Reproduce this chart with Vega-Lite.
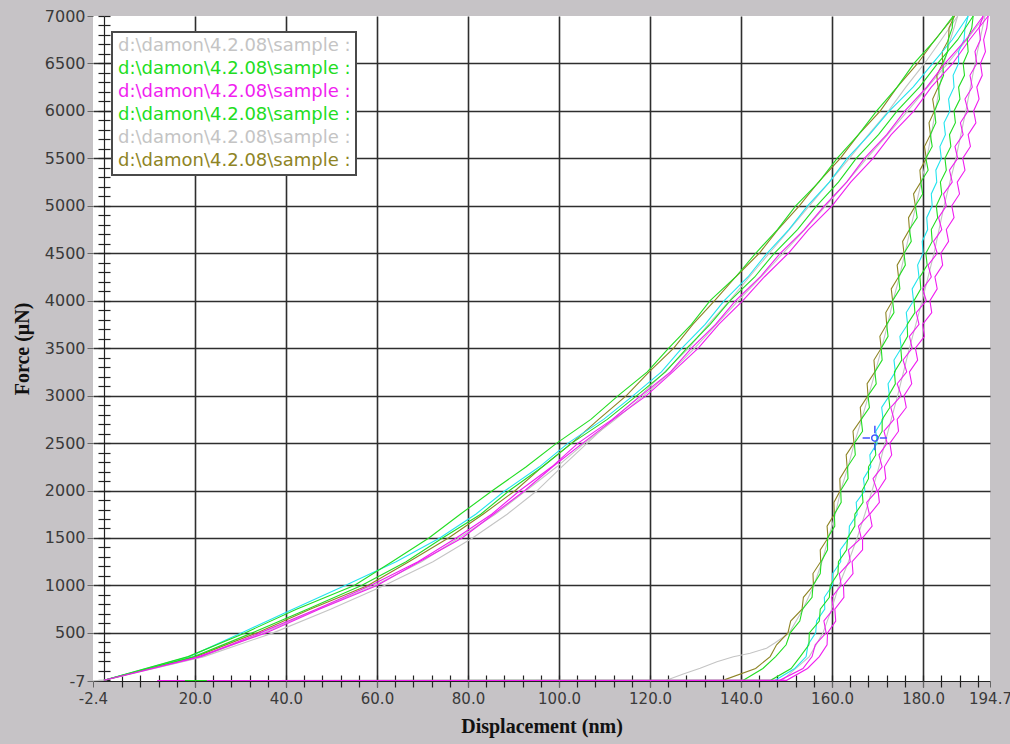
{
"$schema": "https://vega.github.io/schema/vega-lite/v6.json",
"width": 897,
"height": 665,
"autosize": {"type": "none"},
"padding": {"left": 93, "top": 16, "right": 20, "bottom": 63},
"background": "#c6c3c6",
"config": {"view": {"fill": "white", "stroke": null}},
"datasets": {
"cursor": [{"x": 169.4, "y": 2553}],
"curves": [
{"s":"s1","p":"L","x":0,"y":0},{"s":"s1","p":"L","x":22.0,"y":250},{"s":"s1","p":"L","x":37.2,"y":500},{"s":"s1","p":"L","x":49.8,"y":750},{"s":"s1","p":"L","x":61.6,"y":1000},{"s":"s1","p":"L","x":72.3,"y":1250},{"s":"s1","p":"L","x":81.0,"y":1500},{"s":"s1","p":"L","x":88.6,"y":1750},{"s":"s1","p":"L","x":95.2,"y":2000},{"s":"s1","p":"L","x":100.6,"y":2250},{"s":"s1","p":"L","x":106.2,"y":2500},{"s":"s1","p":"L","x":111.8,"y":2750},{"s":"s1","p":"L","x":117.9,"y":3000},{"s":"s1","p":"L","x":123.2,"y":3250},{"s":"s1","p":"L","x":128.5,"y":3500},{"s":"s1","p":"L","x":132.8,"y":3750},{"s":"s1","p":"L","x":137.5,"y":4000},{"s":"s1","p":"L","x":141.8,"y":4250},{"s":"s1","p":"L","x":146.2,"y":4500},{"s":"s1","p":"L","x":150.6,"y":4750},{"s":"s1","p":"L","x":155.0,"y":5000},{"s":"s1","p":"L","x":159.4,"y":5250},{"s":"s1","p":"L","x":163.8,"y":5500},{"s":"s1","p":"L","x":168.0,"y":5750},{"s":"s1","p":"L","x":172.4,"y":6000},{"s":"s1","p":"L","x":176.2,"y":6250},{"s":"s1","p":"L","x":180.3,"y":6500},{"s":"s1","p":"L","x":184.0,"y":6750},{"s":"s1","p":"L","x":187.6,"y":7000},
{"s":"s1","p":"U","x":123.6,"y":0},{"s":"s1","p":"U","x":127.3,"y":67},{"s":"s1","p":"U","x":131.0,"y":127},{"s":"s1","p":"U","x":134.7,"y":196},{"s":"s1","p":"U","x":138.3,"y":249},{"s":"s1","p":"U","x":142.0,"y":285},{"s":"s1","p":"U","x":145.6,"y":338},{"s":"s1","p":"U","x":147.4,"y":393},{"s":"s1","p":"U","x":150.6,"y":500},{"s":"s1","p":"U","x":153.6,"y":750},{"s":"s1","p":"U","x":156.0,"y":1000},{"s":"s1","p":"U","x":157.8,"y":1250},{"s":"s1","p":"U","x":159.2,"y":1500},{"s":"s1","p":"U","x":160.7,"y":1750},{"s":"s1","p":"U","x":161.9,"y":2000},{"s":"s1","p":"U","x":163.5,"y":2250},{"s":"s1","p":"U","x":164.9,"y":2500},{"s":"s1","p":"U","x":166.5,"y":2750},{"s":"s1","p":"U","x":168.0,"y":3000},{"s":"s1","p":"U","x":169.5,"y":3250},{"s":"s1","p":"U","x":170.9,"y":3500},{"s":"s1","p":"U","x":172.2,"y":3750},{"s":"s1","p":"U","x":173.4,"y":4000},{"s":"s1","p":"U","x":174.8,"y":4250},{"s":"s1","p":"U","x":176.0,"y":4500},{"s":"s1","p":"U","x":177.2,"y":4750},{"s":"s1","p":"U","x":178.4,"y":5000},{"s":"s1","p":"U","x":179.6,"y":5250},{"s":"s1","p":"U","x":180.8,"y":5500},{"s":"s1","p":"U","x":181.8,"y":5750},{"s":"s1","p":"U","x":182.7,"y":6000},{"s":"s1","p":"U","x":183.6,"y":6250},{"s":"s1","p":"U","x":184.6,"y":6500},{"s":"s1","p":"U","x":186.0,"y":6750},{"s":"s1","p":"U","x":187.6,"y":7000},
{"s":"s5","p":"L","x":-2.4,"y":-4},{"s":"s5","p":"L","x":0,"y":0},{"s":"s5","p":"L","x":21.6,"y":250},{"s":"s5","p":"L","x":35.0,"y":500},{"s":"s5","p":"L","x":47.0,"y":750},{"s":"s5","p":"L","x":59.5,"y":1000},{"s":"s5","p":"L","x":69.8,"y":1250},{"s":"s5","p":"L","x":78.0,"y":1500},{"s":"s5","p":"L","x":86.0,"y":1750},{"s":"s5","p":"L","x":92.8,"y":2000},{"s":"s5","p":"L","x":99.5,"y":2250},{"s":"s5","p":"L","x":105.6,"y":2500},{"s":"s5","p":"L","x":112.4,"y":2750},{"s":"s5","p":"L","x":118.6,"y":3000},{"s":"s5","p":"L","x":124.6,"y":3250},{"s":"s5","p":"L","x":129.8,"y":3500},{"s":"s5","p":"L","x":134.6,"y":3750},{"s":"s5","p":"L","x":139.4,"y":4000},{"s":"s5","p":"L","x":144.4,"y":4250},{"s":"s5","p":"L","x":149.2,"y":4500},{"s":"s5","p":"L","x":154.0,"y":4750},{"s":"s5","p":"L","x":158.6,"y":5000},{"s":"s5","p":"L","x":163.2,"y":5250},{"s":"s5","p":"L","x":167.6,"y":5500},{"s":"s5","p":"L","x":172.2,"y":5750},{"s":"s5","p":"L","x":176.6,"y":6000},{"s":"s5","p":"L","x":181.0,"y":6250},{"s":"s5","p":"L","x":185.4,"y":6500},{"s":"s5","p":"L","x":189.6,"y":6750},{"s":"s5","p":"L","x":193.6,"y":7000},
{"s":"s5","p":"U","x":149.0,"y":0},{"s":"s5","p":"U","x":155.0,"y":250},{"s":"s5","p":"U","x":158.0,"y":500},{"s":"s5","p":"U","x":159.9,"y":750},{"s":"s5","p":"U","x":161.5,"y":1000},{"s":"s5","p":"U","x":163.6,"y":1250},{"s":"s5","p":"U","x":165.5,"y":1500},{"s":"s5","p":"U","x":167.2,"y":1750},{"s":"s5","p":"U","x":168.8,"y":2000},{"s":"s5","p":"U","x":170.3,"y":2250},{"s":"s5","p":"U","x":171.6,"y":2500},{"s":"s5","p":"U","x":173.0,"y":2750},{"s":"s5","p":"U","x":174.4,"y":3000},{"s":"s5","p":"U","x":175.7,"y":3250},{"s":"s5","p":"U","x":177.0,"y":3500},{"s":"s5","p":"U","x":178.4,"y":3750},{"s":"s5","p":"U","x":179.8,"y":4000},{"s":"s5","p":"U","x":181.1,"y":4250},{"s":"s5","p":"U","x":182.4,"y":4500},{"s":"s5","p":"U","x":183.5,"y":4750},{"s":"s5","p":"U","x":184.6,"y":5000},{"s":"s5","p":"U","x":185.9,"y":5250},{"s":"s5","p":"U","x":187.2,"y":5500},{"s":"s5","p":"U","x":188.3,"y":5750},{"s":"s5","p":"U","x":189.4,"y":6000},{"s":"s5","p":"U","x":190.4,"y":6250},{"s":"s5","p":"U","x":191.4,"y":6500},{"s":"s5","p":"U","x":192.5,"y":6750},{"s":"s5","p":"U","x":193.6,"y":7000},
{"s":"s6","p":"L","x":0,"y":0},{"s":"s6","p":"L","x":20.2,"y":250},{"s":"s6","p":"L","x":33.6,"y":500},{"s":"s6","p":"L","x":45.3,"y":750},{"s":"s6","p":"L","x":58.0,"y":1000},{"s":"s6","p":"L","x":67.0,"y":1250},{"s":"s6","p":"L","x":75.7,"y":1500},{"s":"s6","p":"L","x":83.3,"y":1750},{"s":"s6","p":"L","x":90.4,"y":2000},{"s":"s6","p":"L","x":96.3,"y":2250},{"s":"s6","p":"L","x":102.8,"y":2500},{"s":"s6","p":"L","x":108.7,"y":2750},{"s":"s6","p":"L","x":114.8,"y":3000},{"s":"s6","p":"L","x":119.8,"y":3250},{"s":"s6","p":"L","x":125.2,"y":3500},{"s":"s6","p":"L","x":129.4,"y":3750},{"s":"s6","p":"L","x":134.2,"y":4000},{"s":"s6","p":"L","x":138.8,"y":4250},{"s":"s6","p":"L","x":144.0,"y":4500},{"s":"s6","p":"L","x":148.1,"y":4750},{"s":"s6","p":"L","x":152.8,"y":5000},{"s":"s6","p":"L","x":157.0,"y":5250},{"s":"s6","p":"L","x":161.8,"y":5500},{"s":"s6","p":"L","x":165.8,"y":5750},{"s":"s6","p":"L","x":170.6,"y":6000},{"s":"s6","p":"L","x":174.3,"y":6250},{"s":"s6","p":"L","x":178.8,"y":6500},{"s":"s6","p":"L","x":182.6,"y":6750},{"s":"s6","p":"L","x":186.9,"y":7000},
{"s":"s6","p":"U","x":132.0,"y":-2},{"s":"s6","p":"U","x":136.0,"y":0},{"s":"s6","p":"U","x":143.2,"y":125},{"s":"s6","p":"U","x":146.4,"y":250},{"s":"s6","p":"U","x":147.8,"y":375},{"s":"s6","p":"U","x":150.3,"y":500},{"s":"s6","p":"U","x":150.9,"y":625},{"s":"s6","p":"U","x":153.4,"y":750},{"s":"s6","p":"U","x":153.7,"y":875},{"s":"s6","p":"U","x":155.9,"y":1000},{"s":"s6","p":"U","x":155.8,"y":1125},{"s":"s6","p":"U","x":157.5,"y":1250},{"s":"s6","p":"U","x":157.4,"y":1375},{"s":"s6","p":"U","x":159.1,"y":1500},{"s":"s6","p":"U","x":158.9,"y":1625},{"s":"s6","p":"U","x":160.5,"y":1750},{"s":"s6","p":"U","x":160.4,"y":1875},{"s":"s6","p":"U","x":161.8,"y":2000},{"s":"s6","p":"U","x":161.7,"y":2125},{"s":"s6","p":"U","x":163.3,"y":2250},{"s":"s6","p":"U","x":163.1,"y":2375},{"s":"s6","p":"U","x":164.8,"y":2500},{"s":"s6","p":"U","x":164.6,"y":2625},{"s":"s6","p":"U","x":166.4,"y":2750},{"s":"s6","p":"U","x":166.2,"y":2875},{"s":"s6","p":"U","x":167.9,"y":3000},{"s":"s6","p":"U","x":167.7,"y":3125},{"s":"s6","p":"U","x":169.4,"y":3250},{"s":"s6","p":"U","x":169.2,"y":3375},{"s":"s6","p":"U","x":170.8,"y":3500},{"s":"s6","p":"U","x":170.5,"y":3625},{"s":"s6","p":"U","x":172.0,"y":3750},{"s":"s6","p":"U","x":171.8,"y":3875},{"s":"s6","p":"U","x":173.3,"y":4000},{"s":"s6","p":"U","x":173.0,"y":4125},{"s":"s6","p":"U","x":174.6,"y":4250},{"s":"s6","p":"U","x":174.3,"y":4375},{"s":"s6","p":"U","x":175.8,"y":4500},{"s":"s6","p":"U","x":175.5,"y":4625},{"s":"s6","p":"U","x":177.0,"y":4750},{"s":"s6","p":"U","x":176.8,"y":4875},{"s":"s6","p":"U","x":178.3,"y":5000},{"s":"s6","p":"U","x":177.9,"y":5125},{"s":"s6","p":"U","x":179.5,"y":5250},{"s":"s6","p":"U","x":179.3,"y":5375},{"s":"s6","p":"U","x":180.7,"y":5500},{"s":"s6","p":"U","x":180.3,"y":5625},{"s":"s6","p":"U","x":181.6,"y":5750},{"s":"s6","p":"U","x":181.3,"y":5875},{"s":"s6","p":"U","x":182.5,"y":6000},{"s":"s6","p":"U","x":182.1,"y":6125},{"s":"s6","p":"U","x":183.3,"y":6250},{"s":"s6","p":"U","x":183.0,"y":6375},{"s":"s6","p":"U","x":184.3,"y":6500},{"s":"s6","p":"U","x":184.2,"y":6625},{"s":"s6","p":"U","x":185.6,"y":6750},{"s":"s6","p":"U","x":185.7,"y":6875},{"s":"s6","p":"U","x":186.9,"y":7000},
{"s":"s7","p":"L","x":0,"y":0},{"s":"s7","p":"L","x":18.8,"y":250},{"s":"s7","p":"L","x":30.2,"y":500},{"s":"s7","p":"L","x":41.5,"y":750},{"s":"s7","p":"L","x":53.0,"y":1000},{"s":"s7","p":"L","x":64.2,"y":1250},{"s":"s7","p":"L","x":73.8,"y":1500},{"s":"s7","p":"L","x":81.7,"y":1750},{"s":"s7","p":"L","x":88.2,"y":2000},{"s":"s7","p":"L","x":95.7,"y":2250},{"s":"s7","p":"L","x":102.0,"y":2500},{"s":"s7","p":"L","x":109.8,"y":2750},{"s":"s7","p":"L","x":116.3,"y":3000},{"s":"s7","p":"L","x":122.5,"y":3250},{"s":"s7","p":"L","x":127.0,"y":3500},{"s":"s7","p":"L","x":132.1,"y":3750},{"s":"s7","p":"L","x":136.3,"y":4000},{"s":"s7","p":"L","x":141.5,"y":4250},{"s":"s7","p":"L","x":145.7,"y":4500},{"s":"s7","p":"L","x":150.5,"y":4750},{"s":"s7","p":"L","x":154.6,"y":5000},{"s":"s7","p":"L","x":159.4,"y":5250},{"s":"s7","p":"L","x":163.3,"y":5500},{"s":"s7","p":"L","x":168.2,"y":5750},{"s":"s7","p":"L","x":172.6,"y":6000},{"s":"s7","p":"L","x":177.8,"y":6250},{"s":"s7","p":"L","x":182.1,"y":6500},{"s":"s7","p":"L","x":186.4,"y":6750},{"s":"s7","p":"L","x":189.9,"y":7000},
{"s":"s7","p":"U","x":147.5,"y":0},{"s":"s7","p":"U","x":151.8,"y":125},{"s":"s7","p":"U","x":154.3,"y":250},{"s":"s7","p":"U","x":154.7,"y":375},{"s":"s7","p":"U","x":156.4,"y":500},{"s":"s7","p":"U","x":156.6,"y":625},{"s":"s7","p":"U","x":158.4,"y":750},{"s":"s7","p":"U","x":158.3,"y":875},{"s":"s7","p":"U","x":160.1,"y":1000},{"s":"s7","p":"U","x":160.1,"y":1125},{"s":"s7","p":"U","x":161.9,"y":1250},{"s":"s7","p":"U","x":161.8,"y":1375},{"s":"s7","p":"U","x":163.7,"y":1500},{"s":"s7","p":"U","x":163.8,"y":1625},{"s":"s7","p":"U","x":165.5,"y":1750},{"s":"s7","p":"U","x":165.3,"y":1875},{"s":"s7","p":"U","x":167.2,"y":2000},{"s":"s7","p":"U","x":166.9,"y":2125},{"s":"s7","p":"U","x":168.5,"y":2250},{"s":"s7","p":"U","x":168.3,"y":2375},{"s":"s7","p":"U","x":169.9,"y":2500},{"s":"s7","p":"U","x":169.6,"y":2625},{"s":"s7","p":"U","x":171.2,"y":2750},{"s":"s7","p":"U","x":170.9,"y":2875},{"s":"s7","p":"U","x":172.6,"y":3000},{"s":"s7","p":"U","x":172.3,"y":3125},{"s":"s7","p":"U","x":173.9,"y":3250},{"s":"s7","p":"U","x":173.6,"y":3375},{"s":"s7","p":"U","x":175.2,"y":3500},{"s":"s7","p":"U","x":174.9,"y":3625},{"s":"s7","p":"U","x":176.6,"y":3750},{"s":"s7","p":"U","x":176.3,"y":3875},{"s":"s7","p":"U","x":177.9,"y":4000},{"s":"s7","p":"U","x":177.6,"y":4125},{"s":"s7","p":"U","x":179.1,"y":4250},{"s":"s7","p":"U","x":178.8,"y":4375},{"s":"s7","p":"U","x":180.0,"y":4500},{"s":"s7","p":"U","x":179.8,"y":4625},{"s":"s7","p":"U","x":181.0,"y":4750},{"s":"s7","p":"U","x":180.8,"y":4875},{"s":"s7","p":"U","x":182.0,"y":5000},{"s":"s7","p":"U","x":181.8,"y":5125},{"s":"s7","p":"U","x":183.0,"y":5250},{"s":"s7","p":"U","x":182.8,"y":5375},{"s":"s7","p":"U","x":184.0,"y":5500},{"s":"s7","p":"U","x":183.7,"y":5625},{"s":"s7","p":"U","x":184.9,"y":5750},{"s":"s7","p":"U","x":184.6,"y":5875},{"s":"s7","p":"U","x":185.9,"y":6000},{"s":"s7","p":"U","x":185.6,"y":6125},{"s":"s7","p":"U","x":186.8,"y":6250},{"s":"s7","p":"U","x":186.6,"y":6375},{"s":"s7","p":"U","x":187.8,"y":6500},{"s":"s7","p":"U","x":187.8,"y":6625},{"s":"s7","p":"U","x":189.0,"y":6750},{"s":"s7","p":"U","x":189.2,"y":6875},{"s":"s7","p":"U","x":189.9,"y":7000},
{"s":"s2","p":"L","x":0,"y":0},{"s":"s2","p":"L","x":18.5,"y":250},{"s":"s2","p":"L","x":31.0,"y":500},{"s":"s2","p":"L","x":42.3,"y":750},{"s":"s2","p":"L","x":55.0,"y":1000},{"s":"s2","p":"L","x":63.3,"y":1250},{"s":"s2","p":"L","x":71.4,"y":1500},{"s":"s2","p":"L","x":78.3,"y":1750},{"s":"s2","p":"L","x":85.4,"y":2000},{"s":"s2","p":"L","x":92.8,"y":2250},{"s":"s2","p":"L","x":99.5,"y":2500},{"s":"s2","p":"L","x":107.0,"y":2750},{"s":"s2","p":"L","x":113.0,"y":3000},{"s":"s2","p":"L","x":119.4,"y":3250},{"s":"s2","p":"L","x":124.1,"y":3500},{"s":"s2","p":"L","x":129.1,"y":3750},{"s":"s2","p":"L","x":133.2,"y":4000},{"s":"s2","p":"L","x":138.8,"y":4250},{"s":"s2","p":"L","x":143.2,"y":4500},{"s":"s2","p":"L","x":148.0,"y":4750},{"s":"s2","p":"L","x":152.0,"y":5000},{"s":"s2","p":"L","x":157.1,"y":5250},{"s":"s2","p":"L","x":161.1,"y":5500},{"s":"s2","p":"L","x":165.8,"y":5750},{"s":"s2","p":"L","x":169.8,"y":6000},{"s":"s2","p":"L","x":174.3,"y":6250},{"s":"s2","p":"L","x":178.0,"y":6500},{"s":"s2","p":"L","x":182.7,"y":6750},{"s":"s2","p":"L","x":186.6,"y":7000},
{"s":"s2","p":"U","x":140.5,"y":0},{"s":"s2","p":"U","x":144.8,"y":125},{"s":"s2","p":"U","x":147.6,"y":250},{"s":"s2","p":"U","x":149.9,"y":375},{"s":"s2","p":"U","x":150.8,"y":500},{"s":"s2","p":"U","x":152.9,"y":625},{"s":"s2","p":"U","x":153.5,"y":750},{"s":"s2","p":"U","x":155.6,"y":875},{"s":"s2","p":"U","x":155.8,"y":1000},{"s":"s2","p":"U","x":157.4,"y":1125},{"s":"s2","p":"U","x":157.6,"y":1250},{"s":"s2","p":"U","x":159.0,"y":1375},{"s":"s2","p":"U","x":159.0,"y":1500},{"s":"s2","p":"U","x":160.6,"y":1625},{"s":"s2","p":"U","x":160.5,"y":1750},{"s":"s2","p":"U","x":162.0,"y":1875},{"s":"s2","p":"U","x":161.9,"y":2000},{"s":"s2","p":"U","x":163.5,"y":2125},{"s":"s2","p":"U","x":163.4,"y":2250},{"s":"s2","p":"U","x":165.1,"y":2375},{"s":"s2","p":"U","x":164.9,"y":2500},{"s":"s2","p":"U","x":166.7,"y":2625},{"s":"s2","p":"U","x":166.4,"y":2750},{"s":"s2","p":"U","x":168.2,"y":2875},{"s":"s2","p":"U","x":167.9,"y":3000},{"s":"s2","p":"U","x":169.7,"y":3125},{"s":"s2","p":"U","x":169.4,"y":3250},{"s":"s2","p":"U","x":171.0,"y":3375},{"s":"s2","p":"U","x":170.8,"y":3500},{"s":"s2","p":"U","x":172.3,"y":3625},{"s":"s2","p":"U","x":172.0,"y":3750},{"s":"s2","p":"U","x":173.6,"y":3875},{"s":"s2","p":"U","x":173.3,"y":4000},{"s":"s2","p":"U","x":174.9,"y":4125},{"s":"s2","p":"U","x":174.6,"y":4250},{"s":"s2","p":"U","x":176.1,"y":4375},{"s":"s2","p":"U","x":175.8,"y":4500},{"s":"s2","p":"U","x":177.4,"y":4625},{"s":"s2","p":"U","x":177.0,"y":4750},{"s":"s2","p":"U","x":178.7,"y":4875},{"s":"s2","p":"U","x":178.3,"y":5000},{"s":"s2","p":"U","x":179.9,"y":5125},{"s":"s2","p":"U","x":179.5,"y":5250},{"s":"s2","p":"U","x":181.1,"y":5375},{"s":"s2","p":"U","x":180.6,"y":5500},{"s":"s2","p":"U","x":182.0,"y":5625},{"s":"s2","p":"U","x":181.6,"y":5750},{"s":"s2","p":"U","x":182.8,"y":5875},{"s":"s2","p":"U","x":182.5,"y":6000},{"s":"s2","p":"U","x":183.6,"y":6125},{"s":"s2","p":"U","x":183.4,"y":6250},{"s":"s2","p":"U","x":184.5,"y":6375},{"s":"s2","p":"U","x":184.3,"y":6500},{"s":"s2","p":"U","x":185.4,"y":6625},{"s":"s2","p":"U","x":185.5,"y":6750},{"s":"s2","p":"U","x":186.4,"y":6875},{"s":"s2","p":"U","x":186.6,"y":7000},
{"s":"s8","p":"L","x":0,"y":0},{"s":"s8","p":"L","x":20.8,"y":250},{"s":"s8","p":"L","x":35.6,"y":500},{"s":"s8","p":"L","x":47.3,"y":750},{"s":"s8","p":"L","x":60.0,"y":1000},{"s":"s8","p":"L","x":69.3,"y":1250},{"s":"s8","p":"L","x":78.7,"y":1500},{"s":"s8","p":"L","x":85.6,"y":1750},{"s":"s8","p":"L","x":92.5,"y":2000},{"s":"s8","p":"L","x":98.6,"y":2250},{"s":"s8","p":"L","x":105.2,"y":2500},{"s":"s8","p":"L","x":112.0,"y":2750},{"s":"s8","p":"L","x":119.2,"y":3000},{"s":"s8","p":"L","x":125.0,"y":3250},{"s":"s8","p":"L","x":130.6,"y":3500},{"s":"s8","p":"L","x":135.1,"y":3750},{"s":"s8","p":"L","x":140.4,"y":4000},{"s":"s8","p":"L","x":145.1,"y":4250},{"s":"s8","p":"L","x":150.4,"y":4500},{"s":"s8","p":"L","x":154.8,"y":4750},{"s":"s8","p":"L","x":160.0,"y":5000},{"s":"s8","p":"L","x":164.1,"y":5250},{"s":"s8","p":"L","x":169.0,"y":5500},{"s":"s8","p":"L","x":173.0,"y":5750},{"s":"s8","p":"L","x":178.0,"y":6000},{"s":"s8","p":"L","x":181.8,"y":6250},{"s":"s8","p":"L","x":186.5,"y":6500},{"s":"s8","p":"L","x":190.2,"y":6750},{"s":"s8","p":"L","x":194.3,"y":7000},
{"s":"s8","p":"U","x":11.7,"y":-2},{"s":"s8","p":"U","x":150.0,"y":0},{"s":"s8","p":"U","x":154.6,"y":125},{"s":"s8","p":"U","x":157.2,"y":250},{"s":"s8","p":"U","x":158.9,"y":375},{"s":"s8","p":"U","x":159.0,"y":500},{"s":"s8","p":"U","x":160.8,"y":625},{"s":"s8","p":"U","x":160.6,"y":750},{"s":"s8","p":"U","x":162.6,"y":875},{"s":"s8","p":"U","x":162.5,"y":1000},{"s":"s8","p":"U","x":164.6,"y":1125},{"s":"s8","p":"U","x":164.4,"y":1250},{"s":"s8","p":"U","x":166.7,"y":1375},{"s":"s8","p":"U","x":166.7,"y":1500},{"s":"s8","p":"U","x":168.8,"y":1625},{"s":"s8","p":"U","x":168.3,"y":1750},{"s":"s8","p":"U","x":170.4,"y":1875},{"s":"s8","p":"U","x":170.1,"y":2000},{"s":"s8","p":"U","x":171.8,"y":2125},{"s":"s8","p":"U","x":171.5,"y":2250},{"s":"s8","p":"U","x":173.1,"y":2375},{"s":"s8","p":"U","x":172.7,"y":2500},{"s":"s8","p":"U","x":174.6,"y":2625},{"s":"s8","p":"U","x":174.3,"y":2750},{"s":"s8","p":"U","x":176.3,"y":2875},{"s":"s8","p":"U","x":175.8,"y":3000},{"s":"s8","p":"U","x":177.5,"y":3125},{"s":"s8","p":"U","x":177.0,"y":3250},{"s":"s8","p":"U","x":178.8,"y":3375},{"s":"s8","p":"U","x":178.3,"y":3500},{"s":"s8","p":"U","x":180.3,"y":3625},{"s":"s8","p":"U","x":179.9,"y":3750},{"s":"s8","p":"U","x":181.9,"y":3875},{"s":"s8","p":"U","x":181.5,"y":4000},{"s":"s8","p":"U","x":183.1,"y":4125},{"s":"s8","p":"U","x":182.6,"y":4250},{"s":"s8","p":"U","x":184.3,"y":4375},{"s":"s8","p":"U","x":183.9,"y":4500},{"s":"s8","p":"U","x":185.6,"y":4625},{"s":"s8","p":"U","x":185.1,"y":4750},{"s":"s8","p":"U","x":186.8,"y":4875},{"s":"s8","p":"U","x":186.3,"y":5000},{"s":"s8","p":"U","x":188.0,"y":5125},{"s":"s8","p":"U","x":187.5,"y":5250},{"s":"s8","p":"U","x":189.2,"y":5375},{"s":"s8","p":"U","x":188.7,"y":5500},{"s":"s8","p":"U","x":190.4,"y":5625},{"s":"s8","p":"U","x":189.9,"y":5750},{"s":"s8","p":"U","x":191.6,"y":5875},{"s":"s8","p":"U","x":191.1,"y":6000},{"s":"s8","p":"U","x":192.3,"y":6125},{"s":"s8","p":"U","x":191.8,"y":6250},{"s":"s8","p":"U","x":193.0,"y":6375},{"s":"s8","p":"U","x":192.6,"y":6500},{"s":"s8","p":"U","x":193.7,"y":6625},{"s":"s8","p":"U","x":193.3,"y":6750},{"s":"s8","p":"U","x":194.0,"y":6875},{"s":"s8","p":"U","x":194.3,"y":7000},
{"s":"s4","p":"L","x":0,"y":0},{"s":"s4","p":"L","x":19.8,"y":250},{"s":"s4","p":"L","x":32.6,"y":500},{"s":"s4","p":"L","x":44.7,"y":750},{"s":"s4","p":"L","x":56.6,"y":1000},{"s":"s4","p":"L","x":66.4,"y":1250},{"s":"s4","p":"L","x":74.4,"y":1500},{"s":"s4","p":"L","x":82.8,"y":1750},{"s":"s4","p":"L","x":89.1,"y":2000},{"s":"s4","p":"L","x":96.4,"y":2250},{"s":"s4","p":"L","x":102.8,"y":2500},{"s":"s4","p":"L","x":110.6,"y":2750},{"s":"s4","p":"L","x":117.1,"y":3000},{"s":"s4","p":"L","x":123.4,"y":3250},{"s":"s4","p":"L","x":128.1,"y":3500},{"s":"s4","p":"L","x":133.2,"y":3750},{"s":"s4","p":"L","x":137.6,"y":4000},{"s":"s4","p":"L","x":143.0,"y":4250},{"s":"s4","p":"L","x":147.3,"y":4500},{"s":"s4","p":"L","x":152.4,"y":4750},{"s":"s4","p":"L","x":156.6,"y":5000},{"s":"s4","p":"L","x":161.4,"y":5250},{"s":"s4","p":"L","x":165.3,"y":5500},{"s":"s4","p":"L","x":170.2,"y":5750},{"s":"s4","p":"L","x":174.3,"y":6000},{"s":"s4","p":"L","x":179.2,"y":6250},{"s":"s4","p":"L","x":183.2,"y":6500},{"s":"s4","p":"L","x":187.6,"y":6750},{"s":"s4","p":"L","x":191.0,"y":7000},
{"s":"s4","p":"U","x":17.8,"y":-2},{"s":"s4","p":"U","x":146.5,"y":0},{"s":"s4","p":"U","x":151.0,"y":125},{"s":"s4","p":"U","x":153.0,"y":250},{"s":"s4","p":"U","x":154.9,"y":375},{"s":"s4","p":"U","x":155.0,"y":500},{"s":"s4","p":"U","x":157.2,"y":625},{"s":"s4","p":"U","x":157.4,"y":750},{"s":"s4","p":"U","x":159.4,"y":875},{"s":"s4","p":"U","x":159.6,"y":1000},{"s":"s4","p":"U","x":161.3,"y":1125},{"s":"s4","p":"U","x":161.4,"y":1250},{"s":"s4","p":"U","x":163.2,"y":1375},{"s":"s4","p":"U","x":163.4,"y":1500},{"s":"s4","p":"U","x":165.0,"y":1625},{"s":"s4","p":"U","x":165.0,"y":1750},{"s":"s4","p":"U","x":166.8,"y":1875},{"s":"s4","p":"U","x":166.6,"y":2000},{"s":"s4","p":"U","x":168.0,"y":2125},{"s":"s4","p":"U","x":168.0,"y":2250},{"s":"s4","p":"U","x":169.6,"y":2375},{"s":"s4","p":"U","x":169.4,"y":2500},{"s":"s4","p":"U","x":171.0,"y":2625},{"s":"s4","p":"U","x":171.0,"y":2750},{"s":"s4","p":"U","x":172.7,"y":2875},{"s":"s4","p":"U","x":172.4,"y":3000},{"s":"s4","p":"U","x":173.9,"y":3125},{"s":"s4","p":"U","x":173.7,"y":3250},{"s":"s4","p":"U","x":175.3,"y":3375},{"s":"s4","p":"U","x":175.1,"y":3500},{"s":"s4","p":"U","x":176.6,"y":3625},{"s":"s4","p":"U","x":176.5,"y":3750},{"s":"s4","p":"U","x":178.2,"y":3875},{"s":"s4","p":"U","x":178.0,"y":4000},{"s":"s4","p":"U","x":179.5,"y":4125},{"s":"s4","p":"U","x":179.3,"y":4250},{"s":"s4","p":"U","x":180.9,"y":4375},{"s":"s4","p":"U","x":180.6,"y":4500},{"s":"s4","p":"U","x":182.0,"y":4625},{"s":"s4","p":"U","x":181.8,"y":4750},{"s":"s4","p":"U","x":183.2,"y":4875},{"s":"s4","p":"U","x":182.9,"y":5000},{"s":"s4","p":"U","x":184.1,"y":5125},{"s":"s4","p":"U","x":183.8,"y":5250},{"s":"s4","p":"U","x":185.1,"y":5375},{"s":"s4","p":"U","x":184.8,"y":5500},{"s":"s4","p":"U","x":186.1,"y":5625},{"s":"s4","p":"U","x":185.8,"y":5750},{"s":"s4","p":"U","x":187.1,"y":5875},{"s":"s4","p":"U","x":186.8,"y":6000},{"s":"s4","p":"U","x":188.1,"y":6125},{"s":"s4","p":"U","x":187.8,"y":6250},{"s":"s4","p":"U","x":189.1,"y":6375},{"s":"s4","p":"U","x":188.8,"y":6500},{"s":"s4","p":"U","x":189.9,"y":6625},{"s":"s4","p":"U","x":189.7,"y":6750},{"s":"s4","p":"U","x":190.7,"y":6875},{"s":"s4","p":"U","x":191.0,"y":7000},
{"s":"s3","p":"L","x":0,"y":0},{"s":"s3","p":"L","x":21.3,"y":250},{"s":"s3","p":"L","x":34.3,"y":500},{"s":"s3","p":"L","x":46.7,"y":750},{"s":"s3","p":"L","x":58.6,"y":1000},{"s":"s3","p":"L","x":69.0,"y":1250},{"s":"s3","p":"L","x":77.4,"y":1500},{"s":"s3","p":"L","x":85.2,"y":1750},{"s":"s3","p":"L","x":91.4,"y":2000},{"s":"s3","p":"L","x":98.4,"y":2250},{"s":"s3","p":"L","x":104.2,"y":2500},{"s":"s3","p":"L","x":111.7,"y":2750},{"s":"s3","p":"L","x":118.0,"y":3000},{"s":"s3","p":"L","x":124.5,"y":3250},{"s":"s3","p":"L","x":129.1,"y":3500},{"s":"s3","p":"L","x":134.4,"y":3750},{"s":"s3","p":"L","x":138.8,"y":4000},{"s":"s3","p":"L","x":144.2,"y":4250},{"s":"s3","p":"L","x":148.6,"y":4500},{"s":"s3","p":"L","x":153.9,"y":4750},{"s":"s3","p":"L","x":158.3,"y":5000},{"s":"s3","p":"L","x":163.2,"y":5250},{"s":"s3","p":"L","x":167.1,"y":5500},{"s":"s3","p":"L","x":172.0,"y":5750},{"s":"s3","p":"L","x":176.0,"y":6000},{"s":"s3","p":"L","x":180.8,"y":6250},{"s":"s3","p":"L","x":184.8,"y":6500},{"s":"s3","p":"L","x":189.4,"y":6750},{"s":"s3","p":"L","x":193.2,"y":7000},
{"s":"s3","p":"U","x":22.6,"y":-2},{"s":"s3","p":"U","x":148.5,"y":0},{"s":"s3","p":"U","x":153.6,"y":125},{"s":"s3","p":"U","x":155.6,"y":250},{"s":"s3","p":"U","x":156.3,"y":375},{"s":"s3","p":"U","x":158.7,"y":500},{"s":"s3","p":"U","x":158.2,"y":625},{"s":"s3","p":"U","x":160.3,"y":750},{"s":"s3","p":"U","x":159.9,"y":875},{"s":"s3","p":"U","x":162.0,"y":1000},{"s":"s3","p":"U","x":161.6,"y":1125},{"s":"s3","p":"U","x":164.0,"y":1250},{"s":"s3","p":"U","x":163.6,"y":1375},{"s":"s3","p":"U","x":166.4,"y":1500},{"s":"s3","p":"U","x":165.8,"y":1625},{"s":"s3","p":"U","x":168.2,"y":1750},{"s":"s3","p":"U","x":167.6,"y":1875},{"s":"s3","p":"U","x":169.9,"y":2000},{"s":"s3","p":"U","x":169.0,"y":2125},{"s":"s3","p":"U","x":171.0,"y":2250},{"s":"s3","p":"U","x":170.3,"y":2375},{"s":"s3","p":"U","x":172.1,"y":2500},{"s":"s3","p":"U","x":171.4,"y":2625},{"s":"s3","p":"U","x":173.6,"y":2750},{"s":"s3","p":"U","x":172.9,"y":2875},{"s":"s3","p":"U","x":175.2,"y":3000},{"s":"s3","p":"U","x":174.3,"y":3125},{"s":"s3","p":"U","x":176.4,"y":3250},{"s":"s3","p":"U","x":175.6,"y":3375},{"s":"s3","p":"U","x":177.6,"y":3500},{"s":"s3","p":"U","x":177.0,"y":3625},{"s":"s3","p":"U","x":179.1,"y":3750},{"s":"s3","p":"U","x":178.5,"y":3875},{"s":"s3","p":"U","x":180.7,"y":4000},{"s":"s3","p":"U","x":179.9,"y":4125},{"s":"s3","p":"U","x":181.8,"y":4250},{"s":"s3","p":"U","x":181.1,"y":4375},{"s":"s3","p":"U","x":183.1,"y":4500},{"s":"s3","p":"U","x":182.3,"y":4625},{"s":"s3","p":"U","x":184.1,"y":4750},{"s":"s3","p":"U","x":183.4,"y":4875},{"s":"s3","p":"U","x":185.1,"y":5000},{"s":"s3","p":"U","x":184.5,"y":5125},{"s":"s3","p":"U","x":186.4,"y":5250},{"s":"s3","p":"U","x":185.8,"y":5375},{"s":"s3","p":"U","x":187.6,"y":5500},{"s":"s3","p":"U","x":187.0,"y":5625},{"s":"s3","p":"U","x":188.8,"y":5750},{"s":"s3","p":"U","x":188.2,"y":5875},{"s":"s3","p":"U","x":189.9,"y":6000},{"s":"s3","p":"U","x":189.2,"y":6125},{"s":"s3","p":"U","x":190.8,"y":6250},{"s":"s3","p":"U","x":190.3,"y":6375},{"s":"s3","p":"U","x":191.8,"y":6500},{"s":"s3","p":"U","x":191.4,"y":6625},{"s":"s3","p":"U","x":192.6,"y":6750},{"s":"s3","p":"U","x":192.3,"y":6875},{"s":"s3","p":"U","x":193.2,"y":7000}
]
},
"layer": [
{
"data": {"name": "cursor"},
"mark": {"type": "point", "opacity": 0},
"encoding": {
"x": {"field": "x", "type": "quantitative", "scale": {"domain": [-2.4, 194.7], "nice": false, "zero": false},
"axis": {"orient": "bottom", "values": [20,40,60,80,100,120,140,160,180], "grid": true, "gridColor": "#2e2e2e", "gridWidth": 1.6, "labels": false, "ticks": false, "domain": false, "title": null}},
"y": {"field": "y", "type": "quantitative", "scale": {"domain": [-7, 7000], "nice": false, "zero": false},
"axis": {"orient": "left", "values": [500,1000,1500,2000,2500,3000,3500,4000,4500,5000,5500,6000,6500], "grid": true, "gridColor": "#2e2e2e", "gridWidth": 1.6, "labels": false, "ticks": false, "domain": false, "title": null}}
}
},
{
"data": {"name": "cursor"},
"mark": {"type": "point", "opacity": 0},
"encoding": {
"x": {"field": "x", "type": "quantitative", "scale": {"domain": [-2.4, 194.7], "nice": false, "zero": false},
"axis": {"orient": "bottom", "offset": 0, "values": [4,8,12,16,20,24,28,32,36,40,44,48,52,56,60,64,68,72,76,80,84,88,92,96,100,104,108,112,116,120,124,128,132,136,140,144,148,152,156,160,164,168,172,176,180,184,188,192], "tickSize": 6, "tickColor": "#222", "tickWidth": 1.2, "domain": true, "domainColor": "#222", "domainWidth": 1.2, "labels": false, "grid": false, "title": null}},
"y": {"field": "y", "type": "quantitative", "scale": {"domain": [-7, 7000], "nice": false, "zero": false},
"axis": {"orient": "left", "offset": -11, "values": [0,100,200,300,400,500,600,700,800,900,1000,1100,1200,1300,1400,1500,1600,1700,1800,1900,2000,2100,2200,2300,2400,2500,2600,2700,2800,2900,3000,3100,3200,3300,3400,3500,3600,3700,3800,3900,4000,4100,4200,4300,4400,4500,4600,4700,4800,4900,5000,5100,5200,5300,5400,5500,5600,5700,5800,5900,6000,6100,6200,6300,6400,6500,6600,6700,6800,6900,7000], "tickSize": 6, "tickColor": "#222", "tickWidth": 1.2, "domain": true, "domainColor": "#222", "domainWidth": 1.2, "labels": false, "grid": false, "title": null}}
}
},
{
"data": {"name": "cursor"},
"mark": {"type": "point", "opacity": 0},
"encoding": {
"x": {"field": "x", "type": "quantitative", "scale": {"domain": [-2.4, 194.7], "nice": false, "zero": false},
"axis": {"orient": "bottom", "offset": -6, "values": [4,8,12,16,20,24,28,32,36,40,44,48,52,56,60,64,68,72,76,80,84,88,92,96,100,104,108,112,116,120,124,128,132,136,140,144,148,152,156,160,164,168,172,176,180,184,188,192], "tickSize": 6, "tickColor": "#222", "tickWidth": 1.2, "domain": false, "labels": false, "grid": false, "title": null}},
"y": {"field": "y", "type": "quantitative", "scale": {"domain": [-7, 7000], "nice": false, "zero": false},
"axis": {"orient": "left", "offset": -17, "values": [0,100,200,300,400,500,600,700,800,900,1000,1100,1200,1300,1400,1500,1600,1700,1800,1900,2000,2100,2200,2300,2400,2500,2600,2700,2800,2900,3000,3100,3200,3300,3400,3500,3600,3700,3800,3900,4000,4100,4200,4300,4400,4500,4600,4700,4800,4900,5000,5100,5200,5300,5400,5500,5600,5700,5800,5900,6000,6100,6200,6300,6400,6500,6600,6700,6800,6900,7000], "tickSize": 6, "tickColor": "#222", "tickWidth": 1.2, "domain": false, "labels": false, "grid": false, "title": null}}
}
},
{
"data": {"name": "curves"},
"mark": {"type": "line", "strokeWidth": 1.1, "interpolate": "linear"},
"encoding": {
"x": {"field": "x", "type": "quantitative", "scale": {"domain": [-2.4, 194.7], "nice": false, "zero": false},
"axis": {"orient": "bottom", "values": [-2.4,20,40,60,80,100,120,140,160,180,194.7], "labelExpr": "replace(format(datum.value, '.1f'), '\u2212', '-')", "labelFont": "DejaVu Sans", "labelFontSize": 15, "labelColor": "#3a3a3a", "labelPadding": 4, "labelFlush": false, "labelOverlap": false, "tickSize": 6, "tickColor": "#666", "domain": false, "grid": false,
"title": "Displacement (nm)", "titleFont": "Liberation Serif", "titleFontSize": 20, "titleFontWeight": "bold", "titleColor": "#111", "titlePadding": 10}},
"y": {"field": "y", "type": "quantitative", "scale": {"domain": [-7, 7000], "nice": false, "zero": false},
"axis": {"orient": "left", "values": [-7,500,1000,1500,2000,2500,3000,3500,4000,4500,5000,5500,6000,6500,7000], "labelExpr": "replace(format(datum.value, 'd'), '\u2212', '-')", "labelFont": "DejaVu Sans", "labelFontSize": 16, "labelColor": "#3a3a3a", "labelPadding": 2, "labelFlush": false, "labelOverlap": false, "tickSize": 6, "tickColor": "#666", "domain": false, "grid": false,
"title": "Force (μN)", "titleFont": "Liberation Serif", "titleFontSize": 20, "titleFontWeight": "bold", "titleColor": "#111", "titlePadding": 12}},
"color": {"field": "s", "type": "nominal",
"scale": {"domain": ["s1","s2","s3","s4","s5","s6","s7","s8"], "range": ["#c4c4c4","#22dd22","#f01ef0","#22dd22","#c4c4c4","#8e8424","#22e4ee","#f01ef0"]},
"legend": {"orient": "none", "legendX": 19, "legendY": 16, "values": ["s1","s2","s3","s4","s5","s6"], "title": null,
"labelExpr": "'d:\\\\damon\\\\4.2.08\\\\sample :'", "labelFont": "DejaVu Sans", "labelFontSize": 18, "labelOffset": -17, "labelLimit": 400,
"symbolSize": 1, "symbolOpacity": 0, "symbolStrokeWidth": 0, "symbolType": "circle", "padding": 5, "rowPadding": 5,
"strokeColor": "#4a4a4a", "fillColor": "white",
"encode": {"labels": {"update": {"fill": {"signal": "scale('color', datum.value)"}}}, "legend": {"update": {"strokeWidth": {"value": 2}}}}}},
"detail": {"field": "p", "type": "nominal"},
"order": {"field": "y", "type": "quantitative"}
}
},
{
"data": {"name": "cursor"},
"encoding": {
"x": {"field": "x", "type": "quantitative", "scale": {"domain": [-2.4, 194.7], "nice": false, "zero": false}, "axis": null},
"y": {"field": "y", "type": "quantitative", "scale": {"domain": [-7, 7000], "nice": false, "zero": false}, "axis": null}
},
"layer": [
{"mark": {"type": "point", "shape": "circle", "size": 40, "filled": false, "stroke": "#4455ff", "strokeWidth": 1.5, "opacity": 1}},
{"mark": {"type": "point", "shape": "M-1,0H-0.4M0.4,0H1M0,-1V-0.4M0,0.4V1", "size": 600, "filled": false, "stroke": "#4455ff", "strokeWidth": 1.5, "opacity": 1}}
]
}
],
"resolve": {"axis": {"x": "independent", "y": "independent"}}
}
